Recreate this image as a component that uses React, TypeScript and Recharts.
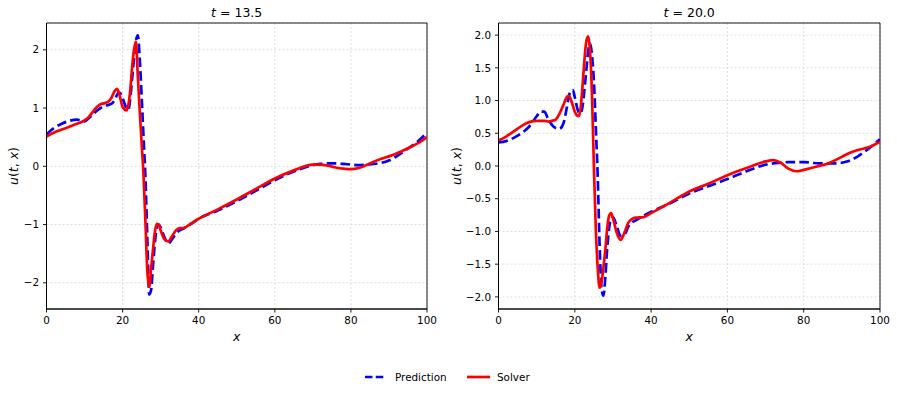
import React from 'react';
import { LineChart, Line, XAxis, YAxis, CartesianGrid, ReferenceArea } from 'recharts';

const xGrid = [0, 2, 4, 6, 8, 10, 11, 12, 13, 14, 15, 16, 17, 18, 18.5, 19, 19.5, 20, 21, 21.5, 22, 22.5, 23, 23.5, 24, 24.5, 25, 25.5, 26, 26.5, 27, 27.5, 28, 28.5, 29, 29.5, 30, 31, 32, 33, 34, 35, 36, 38, 40, 45, 50, 55, 60, 65, 70, 72, 74, 76, 78, 80, 82, 84, 86, 88, 90, 92, 94, 96, 98, 100];

// t = 13.5
const leftSolver = [0.51, 0.58, 0.63, 0.68, 0.73, 0.79, 0.84, 0.92, 1.0, 1.06, 1.08, 1.10, 1.17, 1.30, 1.33, 1.27, 1.14, 1.02, 0.96, 1.05, 1.3, 1.7, 2.0, 2.14, 1.55, 0.95, 0.4, -0.15, -0.95, -1.8, -2.07, -1.75, -1.42, -1.12, -0.99, -1.0, -1.1, -1.25, -1.29, -1.2, -1.1, -1.06, -1.06, -0.98, -0.9, -0.74, -0.57, -0.39, -0.21, -0.07, 0.03, 0.03, 0.01, -0.02, -0.04, -0.05, -0.03, 0.02, 0.08, 0.13, 0.17, 0.22, 0.28, 0.34, 0.41, 0.50];
const leftPrediction = [0.55, 0.66, 0.73, 0.78, 0.80, 0.77, 0.82, 0.88, 0.94, 0.99, 1.03, 1.05, 1.07, 1.15, 1.22, 1.27, 1.25, 1.17, 1.0, 0.97, 1.15, 1.5, 1.85, 2.15, 2.25, 1.85, 1.2, 0.5, -0.2, -1.25, -2.2, -2.12, -1.7, -1.3, -1.06, -1.0, -1.05, -1.22, -1.33, -1.25, -1.16, -1.1, -1.07, -0.99, -0.9, -0.76, -0.6, -0.42, -0.24, -0.09, 0.02, 0.04, 0.05, 0.05, 0.04, 0.03, 0.02, 0.03, 0.04, 0.06, 0.10, 0.17, 0.26, 0.35, 0.45, 0.58];

// t = 20.0
const rightSolver = [0.39, 0.45, 0.53, 0.61, 0.67, 0.69, 0.69, 0.69, 0.68, 0.69, 0.71, 0.8, 0.93, 1.06, 1.07, 1.01, 0.92, 0.83, 0.76, 0.87, 1.2, 1.6, 1.9, 1.98, 1.75, 1.1, 0.0, -0.95, -1.55, -1.86, -1.78, -1.55, -1.28, -0.95, -0.76, -0.72, -0.8, -1.02, -1.13, -1.02, -0.87, -0.81, -0.79, -0.78, -0.72, -0.56, -0.39, -0.27, -0.14, -0.03, 0.07, 0.09, 0.05, -0.04, -0.08, -0.06, -0.03, 0.0, 0.03, 0.08, 0.14, 0.2, 0.24, 0.27, 0.31, 0.37];
const rightPrediction = [0.36, 0.38, 0.43, 0.5, 0.6, 0.76, 0.83, 0.83, 0.72, 0.63, 0.58, 0.57, 0.65, 0.92, 1.08, 1.15, 1.16, 1.05, 0.82, 0.8, 0.9, 1.15, 1.45, 1.75, 1.87, 1.7, 1.3, 0.6, -0.15, -1.2, -1.87, -1.98, -1.7, -1.25, -0.95, -0.8, -0.78, -0.92, -1.07, -1.05, -0.93, -0.86, -0.83, -0.76, -0.7, -0.57, -0.42, -0.31, -0.2, -0.08, 0.02, 0.04, 0.05, 0.06, 0.06, 0.06, 0.05, 0.04, 0.04, 0.04, 0.05, 0.08, 0.14, 0.22, 0.31, 0.41];

const xTicks = [0, 20, 40, 60, 80, 100];
const leftYTicks = [-2, -1, 0, 1, 2];
const rightYTicks = [-2, -1.5, -1, -0.5, 0, 0.5, 1, 1.5, 2];
const titles = ['13.5', '20.0'];
const seriesNames = ['Prediction', 'Solver'];

const FONT = '"DejaVu Sans", sans-serif';
const BLUE = '#0000ff';
const RED = '#ff0000';

const minus = (s: string) => s.replace('-', '\u2212');

type PanelProps = {
  left: number;
  width: number;
  yAxisWidth: number;
  marginRight: number;
  domain: [number, number];
  yTicks: number[];
  fmt: (v: number) => string;
  pred: number[];
  solver: number[];
};

function Panel(p: PanelProps) {
  const data = xGrid.map((x, i) => ({ x, pred: p.pred[i], solver: p.solver[i] }));
  const tickStyle = { fontFamily: FONT, fontSize: 10.4, fill: '#000' };
  return (
    <div style={{ position: 'absolute', left: p.left, top: 0 }}>
      <LineChart width={p.width} height={340} data={data}
        margin={{ top: 23, right: p.marginRight, bottom: 0, left: 0 }}>
        <CartesianGrid stroke="#b0b0b0" strokeOpacity={0.5} strokeDasharray="2 2" strokeWidth={0.8}
          horizontal vertical />
        <XAxis dataKey="x" type="number" domain={[0, 100]} ticks={xTicks} allowDataOverflow
          height={31} tickSize={3.5} tickMargin={4.5} tick={tickStyle}
          stroke="#000" axisLine={{ stroke: '#000', strokeWidth: 0.9 }} tickLine={{ stroke: '#000', strokeWidth: 0.9 }} />
        <YAxis type="number" domain={p.domain} ticks={p.yTicks} allowDataOverflow
          width={p.yAxisWidth} tickSize={3.5} tickMargin={4} tick={tickStyle}
          tickFormatter={p.fmt}
          axisLine={{ stroke: '#000', strokeWidth: 0.9 }} tickLine={{ stroke: '#000', strokeWidth: 0.9 }} />
        <ReferenceArea x1={0} x2={100} y1={p.domain[0]} y2={p.domain[1]} fill="none" fillOpacity={0}
          stroke="#000" strokeWidth={0.9} />
        <Line dataKey="pred" type="monotone" stroke={BLUE} strokeWidth={2.7} strokeDasharray="9.6 4.2"
          dot={false} activeDot={false} isAnimationActive={false} />
        <Line dataKey="solver" type="monotone" stroke={RED} strokeWidth={2.7}
          dot={false} activeDot={false} isAnimationActive={false} />
      </LineChart>
    </div>
  );
}

function Overlay() {
  const t = { fontFamily: FONT, fill: '#000' } as const;
  const title = (cx: number, val: string) => (
    <text x={cx} y={16.5} textAnchor="middle" fontSize={12.5} style={t}>
      <tspan fontStyle="italic">t</tspan>
      <tspan> = {val}</tspan>
    </text>
  );
  const xLabel = (cx: number) => (
    <text x={cx} y={341} textAnchor="middle" fontSize={12.5} fontStyle="italic" style={t}>x</text>
  );
  const yLabel = (cx: number) => (
    <text x={cx} y={166} textAnchor="middle" fontSize={12.5} style={t}
      transform={`rotate(-90 ${cx} 166)`} dominantBaseline="middle">
      <tspan fontStyle="italic">u</tspan>
      <tspan>(</tspan>
      <tspan fontStyle="italic">t</tspan>
      <tspan>, </tspan>
      <tspan fontStyle="italic">x</tspan>
      <tspan>)</tspan>
    </text>
  );
  return (
    <svg width={897} height={395} style={{ position: 'absolute', left: 0, top: 0, pointerEvents: 'none' }}>
      {title(236.7, titles[0])}
      {title(689.2, titles[1])}
      {xLabel(236.7)}
      {xLabel(689.2)}
      {yLabel(14)}
      {yLabel(456.5)}
      <line x1={365} y1={377} x2={385} y2={377} stroke={BLUE} strokeWidth={2.7} strokeDasharray="7.5 3.3" />
      <text x={395} y={381} fontSize={10.4} style={t}>{seriesNames[0]}</text>
      <line x1={467} y1={377} x2={490} y2={377} stroke={RED} strokeWidth={2.7} />
      <text x={497} y={381} fontSize={10.4} style={t}>{seriesNames[1]}</text>
    </svg>
  );
}

export default function App() {
  return (
    <div style={{ position: 'absolute', left: 0, top: 0, width: 897, height: 395, background: '#fff', fontFamily: FONT }}>
      <Panel left={0} width={450} yAxisWidth={46.5} marginRight={23} domain={[-2.45, 2.46]}
        yTicks={leftYTicks} fmt={(v) => minus(String(v))} pred={leftPrediction} solver={leftSolver} />
      <Panel left={450} width={447} yAxisWidth={48.5} marginRight={17} domain={[-2.185, 2.185]}
        yTicks={rightYTicks} fmt={(v) => minus(v.toFixed(1))} pred={rightPrediction} solver={rightSolver} />
      <Overlay />
    </div>
  );
}
